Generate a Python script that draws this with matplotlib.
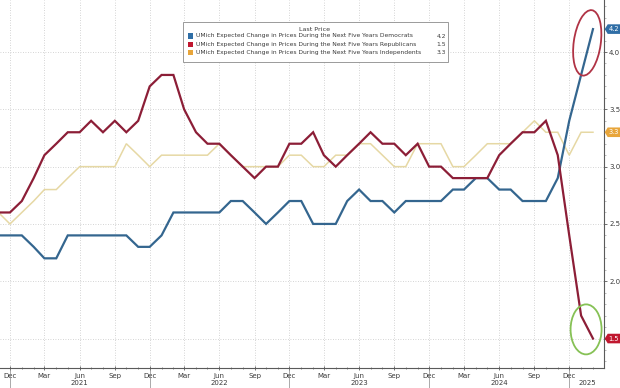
import matplotlib
matplotlib.use('Agg')
import matplotlib.pyplot as plt
import matplotlib.dates as mdates
import matplotlib.transforms as mtransforms
from matplotlib.patches import Ellipse, Rectangle, Polygon
import pandas as pd
import datetime as dt

# ---------------- data ----------------
months = pd.date_range('2020-11-01', periods=52, freq='MS')

democrats = [2.4, 2.4, 2.4, 2.3, 2.2, 2.2, 2.4, 2.4, 2.4, 2.4, 2.4, 2.4, 2.3,
             2.3, 2.4, 2.6, 2.6, 2.6, 2.6, 2.6, 2.7, 2.7, 2.6, 2.5, 2.6, 2.7,
             2.7, 2.5, 2.5, 2.5, 2.7, 2.8, 2.7, 2.7, 2.6, 2.7, 2.7, 2.7, 2.7,
             2.8, 2.8, 2.9, 2.9, 2.8, 2.8, 2.7, 2.7, 2.7, 2.9, 3.4, 3.8, 4.2]

republicans = [2.6, 2.6, 2.7, 2.9, 3.1, 3.2, 3.3, 3.3, 3.4, 3.3, 3.4, 3.3, 3.4,
               3.7, 3.8, 3.8, 3.5, 3.3, 3.2, 3.2, 3.1, 3.0, 2.9, 3.0, 3.0, 3.2,
               3.2, 3.3, 3.1, 3.0, 3.1, 3.2, 3.3, 3.2, 3.2, 3.1, 3.2, 3.0, 3.0,
               2.9, 2.9, 2.9, 2.9, 3.1, 3.2, 3.3, 3.3, 3.4, 3.1, 2.4, 1.7, 1.5]

independents = [2.6, 2.5, 2.6, 2.7, 2.8, 2.8, 2.9, 3.0, 3.0, 3.0, 3.0, 3.2, 3.1,
                3.0, 3.1, 3.1, 3.1, 3.1, 3.1, 3.2, 3.1, 3.0, 3.0, 3.0, 3.0, 3.1,
                3.1, 3.0, 3.0, 3.1, 3.1, 3.2, 3.2, 3.1, 3.0, 3.0, 3.2, 3.2, 3.2,
                3.0, 3.0, 3.1, 3.2, 3.2, 3.2, 3.3, 3.4, 3.3, 3.3, 3.1, 3.3, 3.3]

series_labels = [
    "UMich Expected Change in Prices During the Next Five Years Democrats",
    "UMich Expected Change in Prices During the Next Five Years Republicans",
    "UMich Expected Change in Prices During the Next Five Years Independents",
]
legend_title = "Last Price"
y_ticks = [1.5, 2.0, 2.5, 3.0, 3.5, 4.0]
year_labels = ["2021", "2022", "2023", "2024", "2025"]

# ---------------- style ----------------
line_colors = ["#34668f", "#8c1e37", "#e6d8a4"]
tag_colors = ["#2f6ea6", "#c0172f", "#e8a53a"]
line_widths = [1.6, 1.6, 1.1]
FS = 5.0
TXT = "#3a3a3a"

W, H = 620, 388
fig = plt.figure(figsize=(W / 100, H / 100), dpi=100)
ax = fig.add_axes([0, 20 / H, 603.5 / W, 368 / H])

all_series = [democrats, republicans, independents]
for idx in [2, 0, 1]:
    ax.plot(months, all_series[idx], color=line_colors[idx],
            lw=line_widths[idx], solid_joinstyle='miter', zorder=3 + (idx != 2))

ax.set_xlim(dt.datetime(2020, 11, 5), dt.datetime(2025, 2, 28, 12))
ax.set_ylim(1.243, 4.454)

for s in ['top', 'left']:
    ax.spines[s].set_visible(False)
for s in ['right', 'bottom']:
    ax.spines[s].set_color('#5a5a5a')
    ax.spines[s].set_linewidth(0.8)

# x axis ticks
ax.xaxis.set_major_locator(mdates.MonthLocator(bymonth=[3, 6, 9, 12]))
ax.xaxis.set_major_formatter(mdates.DateFormatter('%b'))
ax.xaxis.set_minor_locator(mdates.MonthLocator())
ax.tick_params(axis='x', which='major', direction='inout', length=3, width=0.6,
               color='#5a5a5a', labelsize=FS, labelcolor=TXT, pad=2)
ax.tick_params(axis='x', which='minor', direction='inout', length=2, width=0.5,
               color='#5a5a5a')

# year labels
xtrans = mtransforms.blended_transform_factory(ax.transData, ax.transAxes)
year_pos = [dt.datetime(2021, 6, 1), dt.datetime(2022, 6, 1), dt.datetime(2023, 6, 1),
            dt.datetime(2024, 6, 1), dt.datetime(2025, 1, 18)]
for lab, pos in zip(year_labels, year_pos):
    ax.text(pos, -0.041, lab, transform=xtrans, ha='center', va='center',
            fontsize=FS, color=TXT, clip_on=False)
for yr in range(2020, 2025):
    d = dt.datetime(yr, 12, 1)
    ax.plot([d, d], [0, -0.06], transform=xtrans, color='#888888', lw=0.5,
            clip_on=False)

# y axis on right (the 1.5 label is hidden behind the last-price tag)
ax.yaxis.tick_right()
ax.set_yticks(y_ticks)
ax.set_yticklabels(["" if v == 1.5 else f"{v:.1f}" for v in y_ticks])
ax.yaxis.set_minor_locator(matplotlib.ticker.MultipleLocator(0.1))
ax.tick_params(axis='y', which='major', direction='out', length=2.5, width=0.6,
               color='#5a5a5a', labelsize=FS, labelcolor=TXT, pad=1.5)
ax.tick_params(axis='y', which='minor', direction='out', length=1.2, width=0.4,
               color='#888888')

ax.grid(True, which='major', color='#c6c6c6', lw=0.6, linestyle=(0, (1, 2)))

# last price tags (arrow-shaped boxes right of the axis)
ytr = ax.get_yaxis_transform()
hh = 0.048
tag_shape = [(0.012, 0), (0.042, hh), (0.165, hh), (0.165, -hh), (0.042, -hh)]
for vals, c in zip(all_series, tag_colors):
    tr = fig.dpi_scale_trans + mtransforms.ScaledTranslation(1.0, vals[-1], ytr)
    ax.add_patch(Polygon(tag_shape, closed=True, transform=tr, fc=c, ec='none',
                         clip_on=False, zorder=7))
    ax.text(0.104, 0, f"{vals[-1]:.1f}", transform=tr, ha='center', va='center',
            fontsize=4.8, color='white', zorder=8, clip_on=False)

# highlight ellipses (anchored to the last data points)
last = months[-1]
e_specs = [
    (last - pd.Timedelta(days=15), democrats[-1] - 0.12, 27, 66, -8, '#b03345'),
    (last - pd.Timedelta(days=18), republicans[-1] + 0.08, 31, 50, 0, '#86c155'),
]
for xd, yd, wpx, hpx, ang, col in e_specs:
    tr = fig.dpi_scale_trans + mtransforms.ScaledTranslation(
        mdates.date2num(xd), yd, ax.transData)
    ax.add_patch(Ellipse((0, 0), wpx / 100, hpx / 100, angle=ang, transform=tr,
                         fill=False, ec=col, lw=1.3, zorder=6, clip_on=False))

# legend (manual, Bloomberg style)
def fx(px):
    return px / W

def fy(py):
    return 1 - py / H

fig.patches.append(Rectangle((fx(183), fy(62)), fx(448) - fx(183), fy(22) - fy(62),
                             transform=fig.transFigure, fc='white', ec='#8a8a8a',
                             lw=0.6, zorder=10))
fig.text(fx(315), fy(29.5), legend_title, ha='center', va='center', fontsize=4.6,
         color=TXT, zorder=11)
row_y = [36.0, 44.3, 52.6]
for lab, vals, c, ry in zip(series_labels, all_series, tag_colors, row_y):
    fig.patches.append(Rectangle((fx(188), fy(ry + 2.6)), fx(5.2), 5.2 / H,
                                 transform=fig.transFigure, fc=c, ec='none',
                                 zorder=11))
    fig.text(fx(196), fy(ry), lab, ha='left', va='center', fontsize=4.35,
             color=TXT, zorder=11)
    fig.text(fx(446), fy(ry), f"{vals[-1]:.1f}", ha='right', va='center',
             fontsize=4.35, color=TXT, zorder=11)

fig.savefig('out.png', dpi=100, facecolor='white')
